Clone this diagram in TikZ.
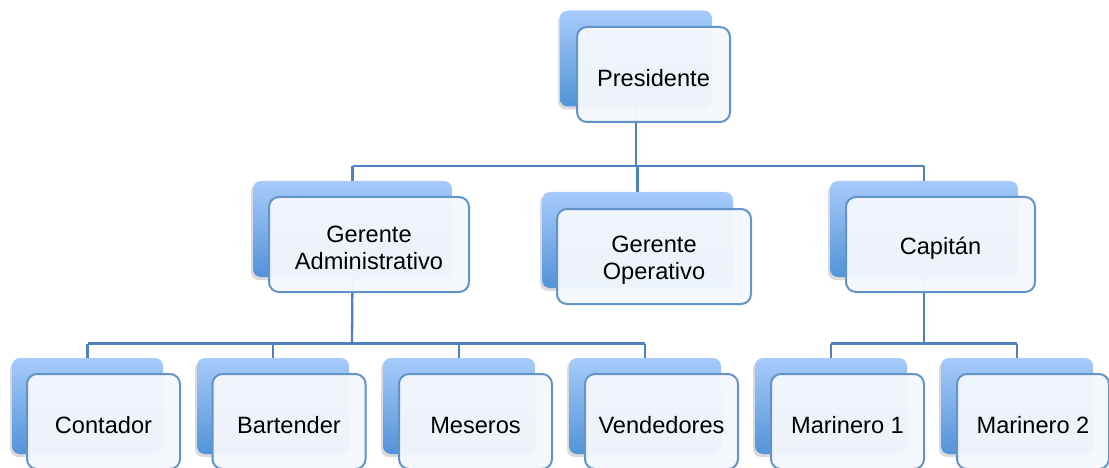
\documentclass[tikz,border=0pt]{standalone}
\usepackage{fontspec}
\setmainfont{Liberation Sans}
\usetikzlibrary{shadows}
\definecolor{bt}{HTML}{A6CBFA}
\definecolor{bb}{HTML}{5293D8}
\definecolor{fb}{HTML}{6394C8}
\definecolor{ff}{HTML}{F4F7FC}
\definecolor{ln}{HTML}{4F81BD}
\tikzset{
  backbox/.style={rectangle, rounded corners=8pt, draw=none, top color=bt, bottom color=bb,
    minimum height=96pt, inner sep=0pt,
    drop shadow={shadow xshift=-2pt, shadow yshift=-3pt, opacity=0.25, fill=black!60}},
  frontbox/.style={rectangle, rounded corners=10pt, draw=fb, line width=2pt, fill=ff,
    fill opacity=0.96, minimum height=95pt, inner sep=0pt},
  lbl/.style={align=center, inner sep=0pt, yshift=-3.5pt,
    font=\fontsize{23.6pt}{26.7pt}\selectfont},
  conn/.style={draw=ln, line width=2.3pt}
}
\begin{document}
\begin{tikzpicture}[x=1pt,y=-1pt]
\useasboundingbox (0,0) rectangle (1109,468);
\clip (0,0) rectangle (1109,468);
% back boxes
\node[backbox, minimum width=152pt] (pb) at (636,58.5) {};
\node[backbox, minimum width=199pt] (gab) at (352.5,229) {};
\node[backbox, minimum width=191pt] (gob) at (637.5,240) {};
\node[backbox, minimum width=188pt] (cab) at (924,229) {};
\node[backbox, minimum width=151pt] (cob) at (87.5,406) {};
\node[backbox, minimum width=152pt] (bab) at (273,406) {};
\node[backbox, minimum width=152pt] (meb) at (459,406) {};
\node[backbox, minimum width=152pt] (veb) at (645,406) {};
\node[backbox, minimum width=152pt] (m1b) at (831,406) {};
\node[backbox, minimum width=152pt] (m2b) at (1017,406) {};
% buses
\coordinate (bus1) at (636,166);
\coordinate (bus2) at (352,343.5);
\coordinate (bus3) at (924,343.5);
% connectors
\draw[conn] (pb.south) -- (pb.south |- bus1);
\draw[conn] (gab.center |- bus1) -- (cab.center |- bus1);
\draw[conn] (gab.center |- bus1) -- (gab.north);
\draw[conn] (gob.center |- bus1) -- (gob.north);
\draw[conn] (cab.center |- bus1) -- (cab.north);
\draw[conn] (gab.south) -- (bus2);
\draw[conn] (cob.center |- bus2) -- (veb.center |- bus2);
\draw[conn] (cob.center |- bus2) -- (cob.north);
\draw[conn] (bab.center |- bus2) -- (bab.north);
\draw[conn] (meb.center |- bus2) -- (meb.north);
\draw[conn] (veb.center |- bus2) -- (veb.north);
\draw[conn] (cab.south) -- (bus3);
\draw[conn] (m1b.center |- bus3) -- (m2b.center |- bus3);
\draw[conn] (m1b.center |- bus3) -- (m1b.north);
\draw[conn] (m2b.center |- bus3) -- (m2b.north);
% front boxes
\node[frontbox, minimum width=153pt] (p) at (653.5,74.5) {};
\node[frontbox, minimum width=200pt] (ga) at (369,244.5) {};
\node[frontbox, minimum width=194pt] (go) at (654,256.5) {};
\node[frontbox, minimum width=189pt] (ca) at (940.5,244.5) {};
\node[frontbox, minimum width=153pt] (co) at (103.5,421.5) {};
\node[frontbox, minimum width=153pt] (ba) at (289,421.5) {};
\node[frontbox, minimum width=153pt] (me) at (475.5,421.5) {};
\node[frontbox, minimum width=153pt] (ve) at (661.5,421.5) {};
\node[frontbox, minimum width=153pt] (m1) at (847.5,421.5) {};
\node[frontbox, minimum width=152pt] (m2) at (1033,421.5) {};
% labels
\node[lbl] (p-t) at (p) {Presidente};
\node[lbl] (ga-t) at (ga) {Gerente\\Administrativo};
\node[lbl] (go-t) at (go) {Gerente\\Operativo};
\node[lbl] (ca-t) at (ca) {Capitán};
\node[lbl] (co-t) at (co) {Contador};
\node[lbl] (ba-t) at (ba) {Bartender};
\node[lbl] (me-t) at (me) {Meseros};
\node[lbl] (ve-t) at (ve) {Vendedores};
\node[lbl] (m1-t) at (m1) {Marinero 1};
\node[lbl] (m2-t) at (m2) {Marinero 2};
\end{tikzpicture}
\end{document}
